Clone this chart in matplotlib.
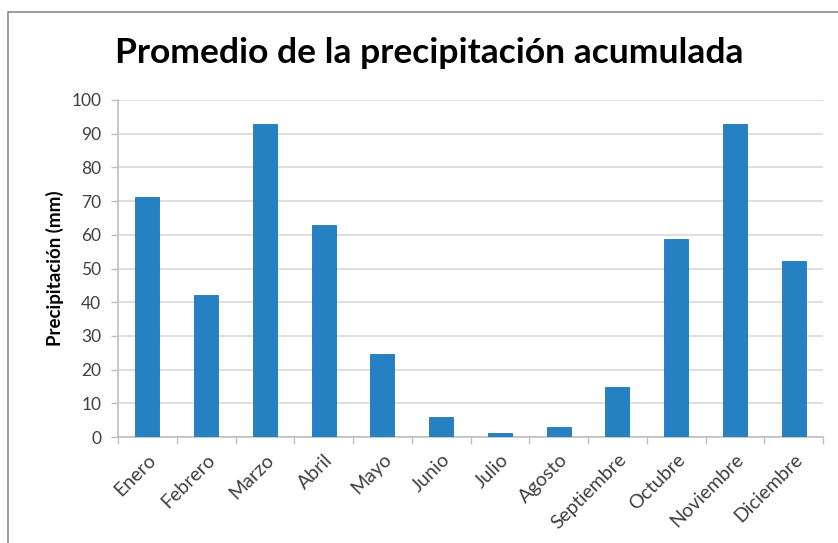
import matplotlib

matplotlib.use("Agg")
import matplotlib.pyplot as plt
import numpy as np
from matplotlib.patches import Rectangle

months = ["Enero", "Febrero", "Marzo", "Abril", "Mayo", "Junio",
          "Julio", "Agosto", "Septiembre", "Octubre", "Noviembre", "Diciembre"]
precip_mm = [71.2, 42.2, 93.0, 63.0, 24.7, 5.9, 1.3, 2.9, 14.9, 58.7, 93.0, 52.3]

W, H = 838, 543
fig = plt.figure(figsize=(W / 100, H / 100), dpi=100)
plt.rcParams["font.family"] = ["Lato", "DejaVu Sans"]

# outer chart frame (cropped at right/bottom)
fig.patches.append(Rectangle((8 / W, -0.1), 1.2, 1 - 12 / H + 0.1,
                             transform=fig.transFigure, fill=False,
                             edgecolor="#8c8c8c", linewidth=1.2))

ax = fig.add_axes([118 / W, (H - 437) / H, (823 - 118) / W, (437 - 100) / H])
x = np.arange(len(months))
ax.bar(x, precip_mm, width=0.41, color="#2581c2", edgecolor="#1f74b3",
       linewidth=0.6, zorder=3)

ax.set_xlim(-0.5, len(months) - 0.5)
ax.set_ylim(0, 100)
ax.set_yticks(np.arange(0, 101, 10))
ax.grid(True, axis="y", color="#d9d9d9", linewidth=1.2, zorder=0)

ax.set_xticks(x)
ax.set_xticklabels(months, rotation=45, ha="right", rotation_mode="anchor",
                   fontsize=14, color="#404040")
ax.set_xticks(np.arange(-0.5, len(months), 1), minor=True)
ax.tick_params(axis="x", which="major", length=0, pad=10)
ax.tick_params(axis="x", which="minor", length=5, color="#bfbfbf", width=1)
ax.tick_params(axis="y", length=5, color="#bfbfbf", width=1, labelsize=12.5,
               labelcolor="#404040", pad=7)

for side in ["top", "right"]:
    ax.spines[side].set_visible(False)
for side in ["left", "bottom"]:
    ax.spines[side].set_color("#bfbfbf")
    ax.spines[side].set_linewidth(1.2)

ax.set_ylabel("Precipitación (mm)", fontsize=13.5, fontweight="bold",
              color="#000000", labelpad=5)
fig.text(429 / W, 1 - 63 / H, "Promedio de la precipitación acumulada",
         ha="center", va="baseline", fontsize=25.5, fontweight="bold",
         color="#000000")

fig.savefig("out.png", dpi=100, facecolor="white")
